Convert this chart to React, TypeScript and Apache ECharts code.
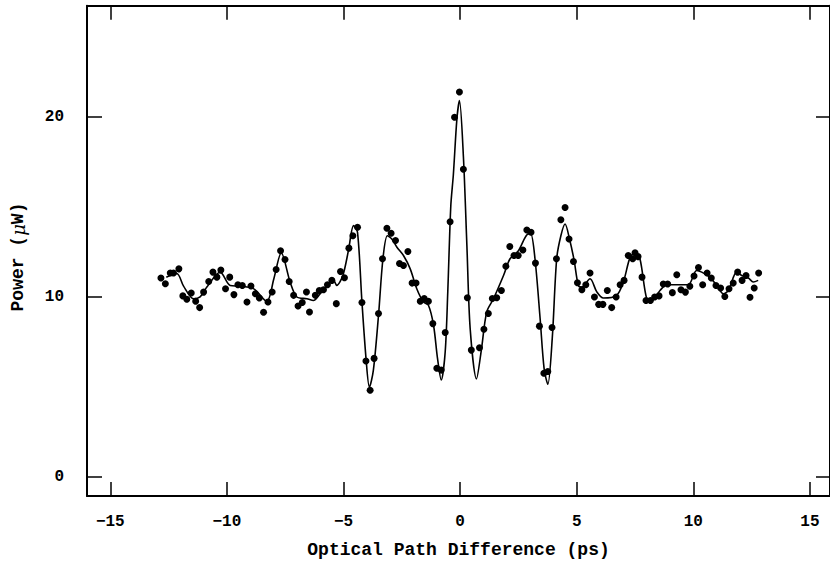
import React, { useEffect, useRef } from "react";
import * as echarts from "echarts";

// Measured points (optical path difference in ps, power in µW)
const pointX = [
  -12.83, -12.64, -12.43, -12.29, -12.06, -11.89, -11.72, -11.53, -11.34, -11.17, -11.0, -10.78,
  -10.6, -10.43, -10.26, -10.06, -9.88, -9.7, -9.53, -9.34, -9.14, -8.97, -8.78, -8.61, -8.43,
  -8.24, -8.06, -7.89, -7.7, -7.51, -7.33, -7.14, -6.95, -6.77, -6.59, -6.46, -6.21, -6.04,
  -5.86, -5.69, -5.5, -5.31, -5.13, -4.96, -4.77, -4.6, -4.4, -4.21, -4.04, -3.86, -3.69, -3.5,
  -3.33, -3.14, -2.96, -2.77, -2.6, -2.43, -2.24, -2.06, -1.89, -1.71, -1.54, -1.36, -1.17, -1.0,
  -0.81, -0.64, -0.43, -0.24, -0.03, 0.14, 0.31, 0.48, 0.83, 1.02, 1.21, 1.38, 1.57, 1.77, 1.96,
  2.13, 2.31, 2.49, 2.69, 2.86, 3.04, 3.23, 3.4, 3.59, 3.76, 3.94, 4.13, 4.32, 4.5, 4.67, 4.86,
  5.03, 5.22, 5.39, 5.57, 5.76, 5.94, 6.12, 6.31, 6.5, 6.69, 6.86, 7.03, 7.21, 7.4, 7.5, 7.63,
  7.8, 7.97, 8.16, 8.34, 8.53, 8.71, 8.9, 9.1, 9.29, 9.47, 9.66, 9.85, 10.03, 10.22, 10.4, 10.59,
  10.77, 10.97, 11.17, 11.35, 11.53, 11.71, 11.9, 12.09, 12.26, 12.43, 12.61, 12.8,
];
const pointY = [
  11.05, 10.73, 11.33, 11.33, 11.56, 10.06, 9.87, 10.22, 9.76, 9.41, 10.27, 10.86,
  11.38, 11.1, 11.49, 10.46, 11.1, 10.13, 10.68, 10.64, 9.72, 10.61, 10.18, 9.94, 9.15,
  9.72, 10.28, 11.52, 12.57, 12.08, 10.86, 10.09, 9.5, 9.69, 10.28, 9.17, 10.09, 10.36,
  10.4, 10.68, 10.92, 9.63, 11.41, 11.07, 12.71, 13.4, 13.87, 9.69, 6.44, 4.82, 6.59, 9.08,
  12.12, 13.81, 13.54, 13.13, 11.86, 11.75, 12.52, 10.77, 10.77, 9.76, 9.91, 9.76, 8.52, 6.04,
  5.94, 8.03, 14.18, 19.98, 21.38, 17.09, 9.96, 7.05, 7.18, 8.21, 9.08, 9.91, 9.96, 10.36, 11.71,
  12.8, 12.3, 12.3, 12.61, 13.72, 13.59, 11.88, 8.38, 5.76, 5.86, 8.3, 12.12, 14.29, 14.97, 13.22, 11.97,
  10.79, 10.4, 10.68, 11.33, 10.0, 9.59, 9.59, 10.36, 9.41, 10.0, 10.68, 10.92, 12.3, 12.12, 12.45, 12.24,
  11.1, 9.8, 9.8, 10.0, 10.06, 10.72, 10.72, 10.24, 11.23, 10.4, 10.27, 10.59, 11.16, 11.64, 10.68, 11.33,
  11.05, 10.64, 10.5, 10.03, 10.46, 10.77, 11.38, 10.92, 11.19, 9.98, 10.5, 11.33,
];

// Fitted curve
const fitX = [
  -12.6, -12.15, -11.86, -11.43, -11.15, -10.86, -10.29, -9.86, -9.43, -8.86, -8.29, -7.99, -7.67,
  -7.29, -7.0, -6.57, -6.29, -6.0, -5.43, -5.29, -5.03, -4.79, -4.57, -4.4, -4.21, -4.03, -3.89,
  -3.72, -3.5, -3.31, -3.12, -2.93, -2.71, -2.43, -2.14, -1.86, -1.57, -1.36, -1.14, -0.97, -0.81,
  -0.64, -0.53, -0.4, -0.29, -0.14, -0.03, 0.14, 0.29, 0.43, 0.7, 0.9, 1.14, 1.43, 1.86, 2.14,
  2.5, 2.93, 3.03, 3.21, 3.43, 3.6, 3.76, 3.95, 4.14, 4.32, 4.5, 4.69, 4.89, 5.07, 5.22, 5.57,
  5.86, 6.14, 6.71, 7.0, 7.29, 7.5, 7.71, 8.0, 8.21, 8.57, 8.86, 9.43, 9.79, 10.14, 10.36, 10.71,
  11.0, 11.29, 11.5, 11.86, 12.07, 12.36, 12.57, 12.78,
];
const fitY = [
  11.1, 11.3, 10.6, 9.9, 10.0, 10.55, 11.38, 10.64, 10.6, 10.46, 9.76, 11.0, 12.45,
  10.83, 10.0, 9.9, 9.8, 10.18, 10.92, 10.64, 11.19, 12.57, 13.96, 13.59, 9.72, 6.5, 5.0,
  5.94, 8.98, 12.12, 13.4, 13.22, 12.76, 12.3, 11.56, 10.46, 9.72, 9.54, 8.43, 6.59, 5.39,
  6.96, 10.28, 15.06, 16.8, 19.86, 20.9, 17.8, 12.85, 8.25, 5.45, 6.96, 9.17, 9.9, 11.19, 12.12,
  12.57, 13.5, 13.5, 12.12, 8.8, 6.04, 5.15, 7.7, 12.12, 13.4, 14.05, 13.22, 12.02, 10.64, 10.55, 11.01,
  10.28, 9.94, 10.09, 10.83, 12.21, 12.45, 12.12, 9.9, 9.81, 10.36, 10.68, 10.68, 10.68, 11.47, 11.38, 11.1,
  10.64, 10.18, 10.36, 11.38, 11.19, 11.05, 10.83, 10.92,
];

const xTicks = [-15, -10, -5, 0, 5, 10, 15];
const yTicks = [0, 10, 20];

const X_MIN = -16;
const X_MAX = 15.86;
const Y_MIN = -1.05;
const Y_MAX = 26.17;

const INK = "#000";
const LABEL_FONT = "'Liberation Mono', 'DejaVu Sans Mono', monospace";

export default function App() {
  const ref = useRef<HTMLDivElement>(null);

  useEffect(() => {
    if (!ref.current) return;
    const chart = echarts.init(ref.current, undefined, { renderer: "svg" });

    const minus = (v: number) => String(v).replace("-", "\u2212");
    const lineStyle = { color: INK, width: 2 };
    const tickStyle = { color: INK, width: 1.5 };

    const xBase = {
      type: "value" as const,
      min: X_MIN,
      max: X_MAX,
      splitLine: { show: false },
      axisLine: { show: true, onZero: false, lineStyle },
    };
    const yBase = {
      type: "value" as const,
      min: Y_MIN,
      max: Y_MAX,
      splitLine: { show: false },
      axisLine: { show: true, onZero: false, lineStyle },
    };

    chart.setOption({
      animation: false,
      backgroundColor: "#fff",
      grid: { left: 87, right: 0, top: 5.7, bottom: 65.7 },
      xAxis: [
        {
          ...xBase,
          position: "bottom",
          name: "Optical Path Difference (ps)",
          nameLocation: "middle",
          nameGap: 45,
          nameTextStyle: { fontFamily: LABEL_FONT, fontSize: 18, fontWeight: "bold", color: INK },
          axisTick: { show: true, inside: true, length: 14, lineStyle: tickStyle, customValues: xTicks },
          axisLabel: {
            show: true,
            margin: 18,
            customValues: xTicks,
            formatter: (v: number) => minus(v),
            fontFamily: LABEL_FONT,
            fontSize: 16,
            fontWeight: "bold",
            color: INK,
          },
        },
        {
          ...xBase,
          position: "top",
          axisTick: { show: true, inside: true, length: 14, lineStyle: tickStyle, customValues: xTicks },
          axisLabel: { show: false },
        },
      ],
      yAxis: [
        {
          ...yBase,
          position: "left",
          axisTick: { show: true, inside: true, length: 15, lineStyle: tickStyle, customValues: yTicks },
          axisLabel: {
            show: true,
            margin: 23,
            customValues: yTicks,
            formatter: (v: number) => minus(v),
            fontFamily: LABEL_FONT,
            fontSize: 16,
            fontWeight: "bold",
            color: INK,
          },
        },
        {
          ...yBase,
          position: "right",
          axisTick: { show: true, inside: true, length: 14, lineStyle: tickStyle, customValues: yTicks },
          axisLabel: { show: false },
        },
      ],
      graphic: [
        {
          type: "text",
          x: 18,
          y: 257,
          rotation: Math.PI / 2,
          style: {
            text: "{a|Power (}{i|\u03bc}{a|W)}",
            align: "center",
            verticalAlign: "middle",
            fill: INK,
            rich: {
              a: { fontFamily: LABEL_FONT, fontSize: 18, fontWeight: "bold", fill: INK },
              i: { fontFamily: "'DejaVu Serif', serif", fontSize: 18, fontStyle: "italic", fill: INK },
            },
          },
        },
      ],
      series: [
        {
          type: "line",
          data: fitX.map((x, i) => [x, fitY[i]]),
          smooth: 0.3,
          showSymbol: false,
          symbol: "none",
          lineStyle: { color: INK, width: 1.6 },
          z: 2,
        },
        {
          type: "scatter",
          data: pointX.map((x, i) => [x, pointY[i]]),
          symbol: "circle",
          symbolSize: 7,
          itemStyle: { color: INK, opacity: 1 },
          z: 3,
        },
      ],
    });

    return () => chart.dispose();
  }, []);

  return (
    <div
      ref={ref}
      style={{ position: "fixed", left: 0, top: 0, width: 830, height: 564, background: "#fff" }}
    />
  );
}
